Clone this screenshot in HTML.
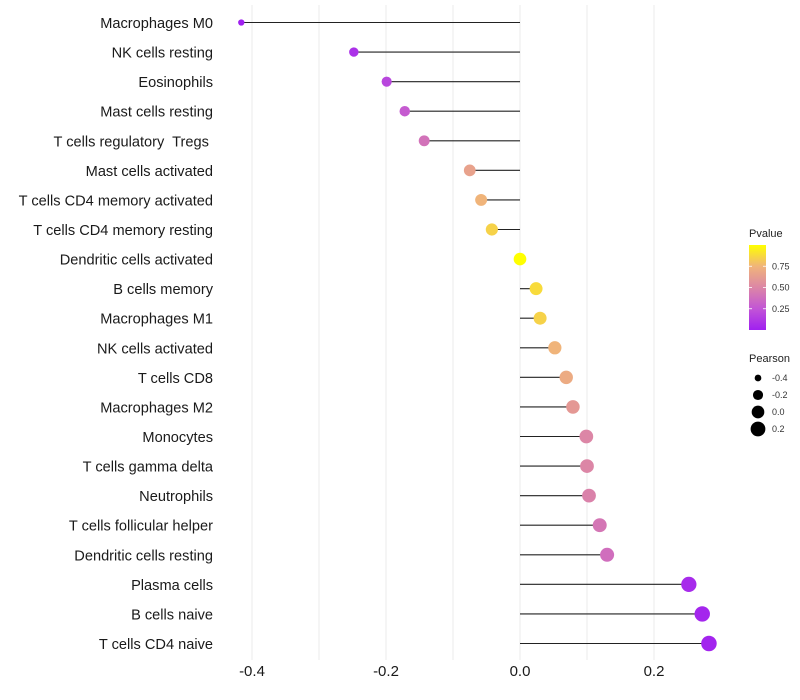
<!DOCTYPE html>
<html><head><meta charset="utf-8"><style>
html,body{margin:0;padding:0;background:#fff;}
svg{display:block;font-family:"Liberation Sans",Arial,sans-serif;}
text{white-space:pre;}
</style></head><body>
<svg id="chart" width="800" height="700">
<defs>
<linearGradient id="pg" x1="0" y1="1" x2="0" y2="0">
<stop offset="0" stop-color="#a020f0"/><stop offset="0.25" stop-color="#c255d6"/>
<stop offset="0.5" stop-color="#dc86a6"/><stop offset="0.75" stop-color="#f0b47a"/>
<stop offset="1" stop-color="#ffff00"/></linearGradient>
</defs>
<g id="grid"></g>
<g id="marks"></g>
<g id="ylabels"></g>
<g id="xticks"></g>
<g>
<text x="749" y="237" font-size="11" fill="#222">Pvalue</text>
<rect x="749" y="245" width="17" height="85" fill="url(#pg)"/>
<g id="pleg"></g>
</g>
<g>
<text x="749" y="362" font-size="11" fill="#222">Pearson</text>
<g id="sleg"></g>
</g>
</svg>
<script>
const categories=["Macrophages M0","NK cells resting","Eosinophils","Mast cells resting","T cells regulatory  Tregs ","Mast cells activated","T cells CD4 memory activated","T cells CD4 memory resting","Dendritic cells activated","B cells memory","Macrophages M1","NK cells activated","T cells CD8","Macrophages M2","Monocytes","T cells gamma delta","Neutrophils","T cells follicular helper","Dendritic cells resting","Plasma cells","B cells naive","T cells CD4 naive"];
const pearson=[-0.416,-0.248,-0.199,-0.172,-0.143,-0.075,-0.058,-0.042,0.0,0.024,0.030,0.052,0.069,0.079,0.099,0.100,0.103,0.119,0.130,0.252,0.272,0.282];
const pvalue=[0.0,0.08,0.18,0.28,0.4,0.65,0.75,0.85,1.0,0.88,0.85,0.75,0.7,0.6,0.5,0.5,0.48,0.42,0.38,0.05,0.03,0.02];
const xTicks=[-0.4,-0.2,0.0,0.2];
const xTickLabels=["-0.4","-0.2","0.0","0.2"];
const minorTicks=[-0.3,-0.1,0.1];
const pTicks=[0.25,0.5,0.75];
const pTickLabels=["0.25","0.50","0.75"];
const sizeLegend=[-0.4,-0.2,0.0,0.2];
const sizeLegendLabels=["-0.4","-0.2","0.0","0.2"];

const NS="http://www.w3.org/2000/svg";
const x=v=>520+v*670;
const y=i=>22.5+i*(621/21);
const r=v=>Math.sqrt(Math.max(4,40+v*72));
const stops=[[0,[160,32,240]],[0.25,[194,85,214]],[0.5,[220,134,166]],[0.75,[240,180,122]],[1,[255,255,0]]];
function col(p){for(let k=1;k<stops.length;k++){if(p<=stops[k][0]){const a=stops[k-1],b=stops[k];const t=(p-a[0])/(b[0]-a[0]);const c=a[1].map((v,j)=>Math.round(v+(b[1][j]-v)*t));return `rgb(${c})`;}}return "rgb(255,255,0)";}
function mk(t,at,parent){const e=document.createElementNS(NS,t);for(const k in at)e.setAttribute(k,at[k]);document.getElementById(parent).appendChild(e);return e;}

xTicks.concat(minorTicks).forEach(v=>{
const l=mk("line",{x1:x(v),x2:x(v),y1:5,y2:660,stroke:"#ebebeb","stroke-width":1},"grid");


});
xTicks.forEach((v,i)=>{
const t=mk("text",{x:x(v),y:676,"font-size":15,"text-anchor":"middle",fill:"#1a1a1a"},"xticks");
t.textContent=xTickLabels[i];


});
categories.forEach((c,i)=>{
const t=mk("text",{x:213,y:y(i)+5.5,"font-size":14.6,"text-anchor":"end",fill:"#1a1a1a"},"ylabels");
t.textContent=c;


const l=mk("line",{x1:x(0),x2:x(pearson[i]),y1:y(i),y2:y(i),stroke:"#222","stroke-width":1.1},"marks");


const d=mk("circle",{cx:x(pearson[i]),cy:y(i),r:r(pearson[i]),fill:col(pvalue[i])},"marks");


});
pTicks.forEach((p,i)=>{
const yy=330-p*85;
const l=mk("line",{x1:749,x2:752,y1:yy,y2:yy,stroke:"#fff","stroke-width":0.8},"pleg");


const l2=mk("line",{x1:763,x2:766,y1:yy,y2:yy,stroke:"#fff","stroke-width":0.8},"pleg");


const t=mk("text",{x:772,y:yy+3,"font-size":9,fill:"#333"},"pleg");
t.textContent=pTickLabels[i];


});
sizeLegend.forEach((v,i)=>{
const yy=378+i*17;
const c=mk("circle",{cx:758,cy:yy,r:r(v),fill:"#000"},"sleg");


const t=mk("text",{x:772,y:yy+3,"font-size":9,fill:"#333"},"sleg");
t.textContent=sizeLegendLabels[i];


});
</script>
</body></html>
